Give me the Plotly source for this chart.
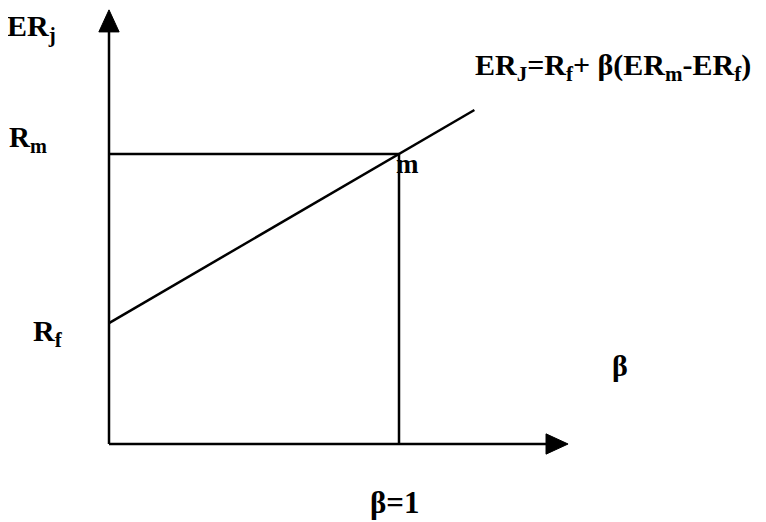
import plotly.graph_objects as go

# values (units: beta on x, expected return on y, Rm = 1)
beta_m = 1.0
R_f = 0.417
R_m = 1.0
beta_end = 1.26          # where the SML line stops
x_axis_end = 1.583       # arrow tip of the beta axis
y_axis_end = 1.497       # arrow tip of the ER axis

# Security market line
sml_beta = [0, beta_end]
sml_er = [R_f + b * (R_m - R_f) for b in sml_beta]

FONT = "Liberation Serif"
LINE = dict(color="black", width=2.5)

fig = go.Figure()

# axes
fig.add_trace(go.Scatter(x=[0, 0], y=[0, y_axis_end - 0.07], mode="lines", line=LINE))
fig.add_trace(go.Scatter(x=[0, x_axis_end - 0.07], y=[0, 0], mode="lines", line=LINE))

# arrow heads
ah_len, ah_half = 0.076, 0.035
fig.add_trace(go.Scatter(x=[-ah_half, ah_half, 0, -ah_half],
                         y=[y_axis_end - ah_len, y_axis_end - ah_len, y_axis_end, y_axis_end - ah_len],
                         mode="lines", fill="toself", fillcolor="black", line=dict(color="black", width=1)))
fig.add_trace(go.Scatter(x=[x_axis_end - ah_len, x_axis_end - ah_len, x_axis_end, x_axis_end - ah_len],
                         y=[-ah_half, ah_half, 0, -ah_half],
                         mode="lines", fill="toself", fillcolor="black", line=dict(color="black", width=1)))

# market portfolio guide lines
fig.add_trace(go.Scatter(x=[0, beta_m], y=[R_m, R_m], mode="lines", line=LINE))
fig.add_trace(go.Scatter(x=[beta_m, beta_m], y=[0, R_m], mode="lines", line=LINE))

# SML
fig.add_trace(go.Scatter(x=sml_beta, y=sml_er, mode="lines", line=LINE))

labels = [
    (-0.279, R_m + 0.052, "R<sub>m</sub>", 29),
    (-0.21, R_f - 0.035, "R<sub>f</sub>", 30),
    (1.762, 0.269, "β", 30),
    (beta_m - 0.014, -0.203, "β=1", 31),
    (beta_m + 0.031, R_m - 0.034, "m", 27),
    (1.738, 1.30, "ER<sub>J</sub>=R<sub>f</sub>+ β(ER<sub>m</sub>-ER<sub>f</sub>)", 30),
]
for x, y, t, s in labels:
    fig.add_annotation(x=x, y=y, text=t, showarrow=False,
                       font=dict(family=FONT, size=s, color="black", weight="bold"))

# y-axis name sits right at the top edge
fig.add_annotation(x=-0.266, y=1, yref="paper", yanchor="top", text="ER<sub>j</sub>",
                   showarrow=False, borderpad=0,
                   font=dict(family=FONT, size=30, color="black", weight="bold"))

# page body has an 8px margin, so the figure is drawn 8px in from the top-left
fig.update_layout(
    width=758, height=514,
    margin=dict(l=0, r=0, t=0, b=0),
    plot_bgcolor="white", paper_bgcolor="white",
    showlegend=False,
    xaxis=dict(range=[-101 / 290, 657 / 290], visible=False, fixedrange=True),
    yaxis=dict(range=[-78 / 290, 436 / 290], visible=False, fixedrange=True),
)

fig.write_html("out.html")
